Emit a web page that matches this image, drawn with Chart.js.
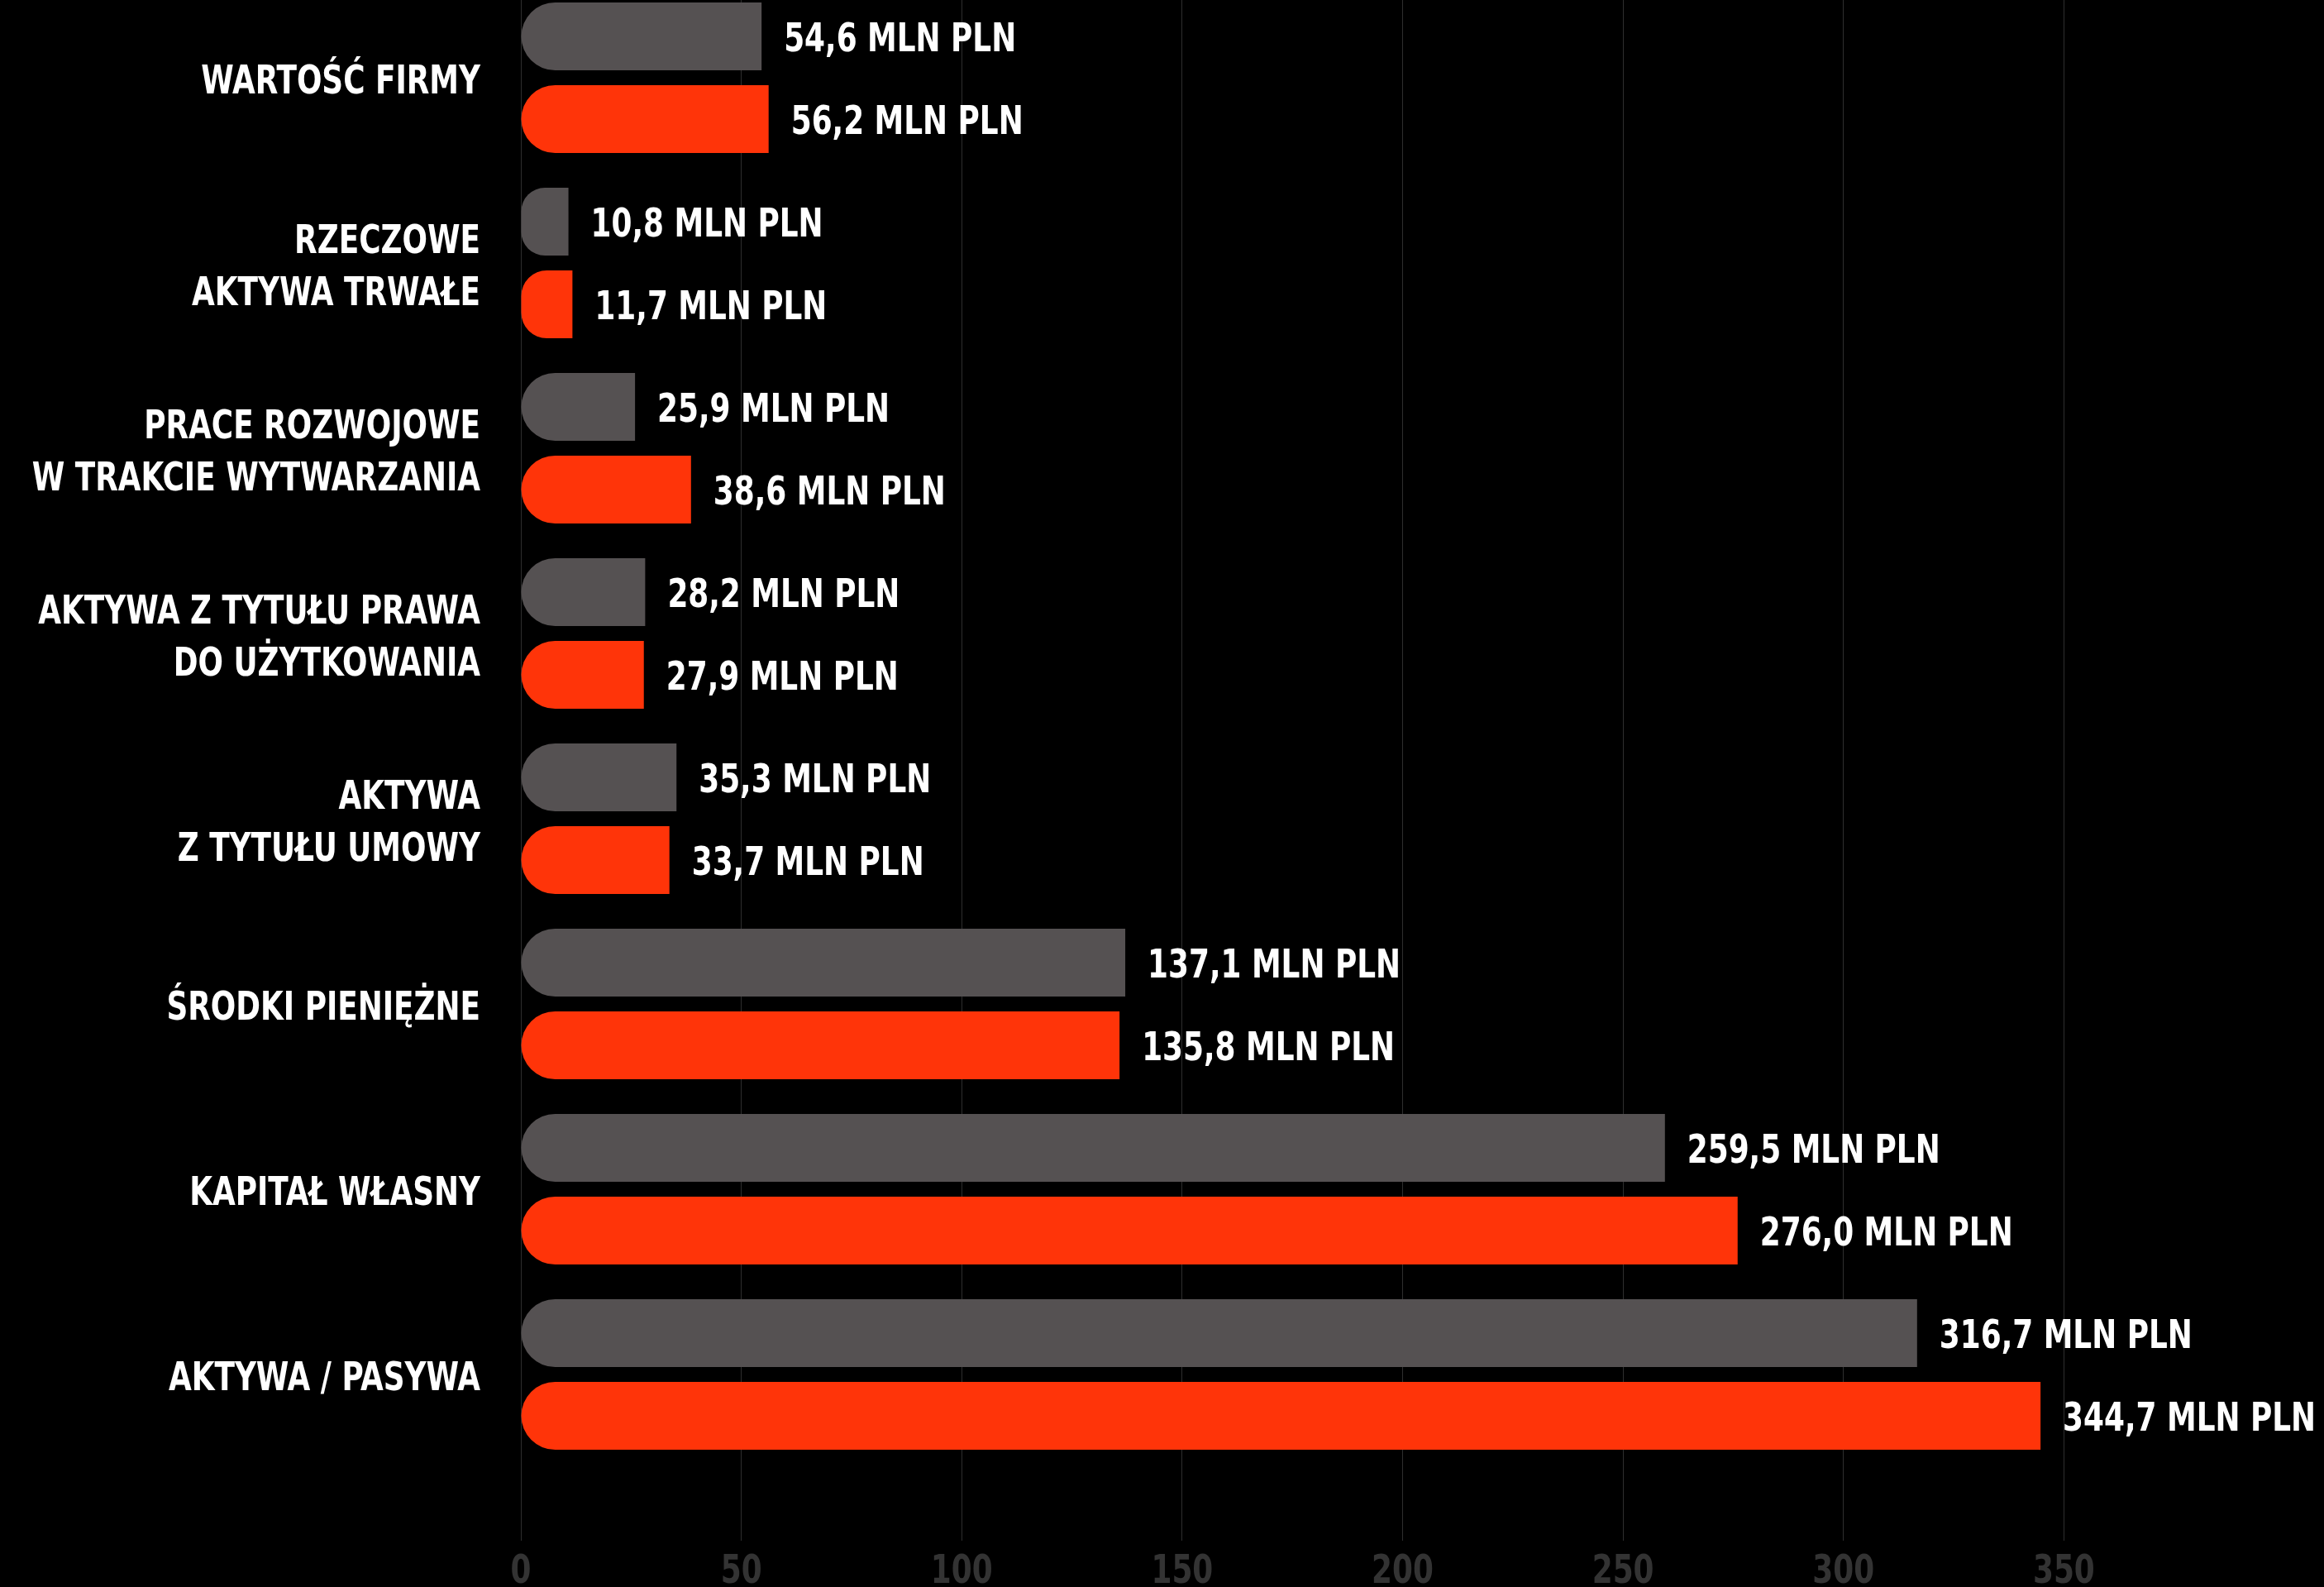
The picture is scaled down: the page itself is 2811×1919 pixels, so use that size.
<!DOCTYPE html>
<html>
<head>
<meta charset="utf-8">
<script src="https://cdn.jsdelivr.net/npm/chart.js@4.4.0/dist/chart.umd.min.js"></script>
<style>
  html, body { margin: 0; padding: 0; background: #000; overflow: hidden; }
  #wrap { position: absolute; left: 0; top: -18px; }
</style>
</head>
<body>
<div id="wrap"><canvas id="chart" width="2811" height="1937"></canvas></div>
<script>
// kategorie bilansu
const categories = [
    'WARTOŚĆ FIRMY',
    ['RZECZOWE', 'AKTYWA TRWAŁE'],
    ['PRACE ROZWOJOWE', 'W TRAKCIE WYTWARZANIA'],
    ['AKTYWA Z TYTUŁU PRAWA', 'DO UŻYTKOWANIA'],
    ['AKTYWA', 'Z TYTUŁU UMOWY'],
    'ŚRODKI PIENIĘŻNE',
    'KAPITAŁ WŁASNY',
    'AKTYWA / PASYWA'
];
const previousYear = [54.6, 10.8, 25.9, 28.2, 35.3, 137.1, 259.5, 316.7];
const currentYear = [56.2, 11.7, 38.6, 27.9, 33.7, 135.8, 276.0, 344.7];
const axisTicks = [0, 50, 100, 150, 200, 250, 300, 350];
const unitLabel = 'MLN PLN';

const FONT = "'DejaVu Sans Condensed', 'DejaVu Sans', sans-serif";
const GREY = '#555152';
const RED = '#ff3409';
const SQUEEZE = 0.83; // brak wąskiego fontu - ściskamy tekst poziomo

const formatValue = (v) => v.toFixed(1).replace('.', ',') + ' ' + unitLabel;

const drawNarrow = (ctx, text, x, y, align) => {
    ctx.save();
    ctx.translate(x, y);
    ctx.scale(SQUEEZE, 1);
    ctx.textAlign = align;
    ctx.fillText(text, 0, 0);
    ctx.restore();
};

// wszystkie napisy rysowane ręcznie (kategorie, wartości, oś X)
const textLayer = {
    id: 'textLayer',
    afterDatasetsDraw(chart) {
        const ctx = chart.ctx;
        const xs = chart.scales.x;
        const ys = chart.scales.y;
        const area = chart.chartArea;
        ctx.save();
        ctx.font = 'bold 48px ' + FONT;
        ctx.textBaseline = 'alphabetic';

        // wartości przy słupkach
        ctx.fillStyle = '#ffffff';
        chart.data.datasets.forEach((ds, di) => {
            const meta = chart.getDatasetMeta(di);
            meta.data.forEach((bar, i) => {
                drawNarrow(ctx, formatValue(ds.data[i]), bar.x + 27, bar.y + 18, 'left');
            });
        });

        // etykiety kategorii
        const lineH = 63;
        categories.forEach((cat, i) => {
            const lines = Array.isArray(cat) ? cat : [cat];
            const cy = ys.getPixelForValue(i);
            const startY = cy - (lines.length - 1) * lineH / 2;
            lines.forEach((line, li) => {
                drawNarrow(ctx, line, 581, startY + li * lineH + 19, 'right');
            });
        });

        // podpisy osi X
        ctx.fillStyle = '#333333';
        axisTicks.forEach(v => {
            drawNarrow(ctx, String(v), xs.getPixelForValue(v), area.bottom + 140, 'center');
        });
        ctx.restore();
    }
};

const radius = { topLeft: 41, bottomLeft: 41, topRight: 0, bottomRight: 0 };

new Chart(document.getElementById('chart').getContext('2d'), {
    type: 'bar',
    data: {
        labels: categories,
        datasets: [
            {
                label: 'poprzedni rok',
                data: previousYear,
                backgroundColor: GREY,
                borderSkipped: false,
                borderRadius: radius,
                categoryPercentage: 0.893,
                barPercentage: 0.82
            },
            {
                label: 'bieżący rok',
                data: currentYear,
                backgroundColor: RED,
                borderSkipped: false,
                borderRadius: radius,
                categoryPercentage: 0.893,
                barPercentage: 0.82
            }
        ]
    },
    options: {
        indexAxis: 'y',
        responsive: false,
        animation: false,
        layout: { padding: 0 },
        plugins: {
            legend: { display: false },
            tooltip: { enabled: false }
        },
        scales: {
            x: {
                min: 0,
                max: 409,
                afterBuildTicks: (scale) => {
                    scale.ticks = axisTicks.map(v => ({ value: v }));
                },
                afterFit: (scale) => { scale.height = 145; },
                border: { display: false },
                grid: {
                    color: '#2e2e2e',
                    lineWidth: 1,
                    drawTicks: true,
                    tickLength: 89
                },
                ticks: { display: false }
            },
            y: {
                afterFit: (scale) => { scale.width = 630; },
                border: { display: false },
                grid: { display: false, drawTicks: false },
                ticks: { display: false }
            }
        }
    },
    plugins: [textLayer]
});
</script>
</body>
</html>
